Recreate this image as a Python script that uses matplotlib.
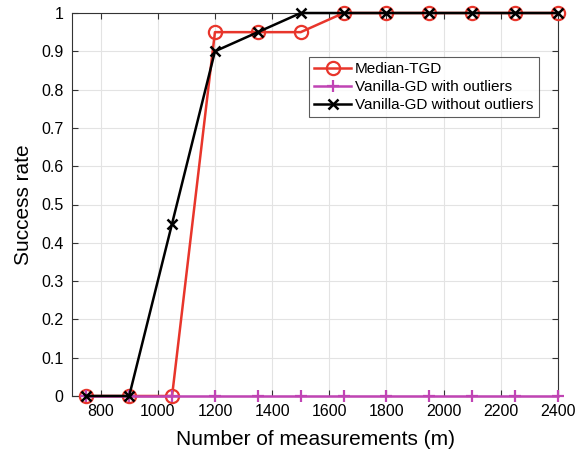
import matplotlib
matplotlib.use("Agg")
import matplotlib.pyplot as plt

m_values = [750, 900, 1050, 1200, 1350, 1500, 1650, 1800, 1950, 2100, 2250, 2400]
median_tgd = [0, 0, 0, 0.95, 0.95, 0.95, 1, 1, 1, 1, 1, 1]
vanilla_with = [0, 0, 0, 0, 0, 0, 0, 0, 0, 0, 0, 0]
vanilla_without = [0, 0, 0.45, 0.9, 0.95, 1, 1, 1, 1, 1, 1, 1]
x_ticks = [800, 1000, 1200, 1400, 1600, 1800, 2000, 2200, 2400]
y_ticks = [0, 0.1, 0.2, 0.3, 0.4, 0.5, 0.6, 0.7, 0.8, 0.9, 1]
y_ticklabels = ["0", "0.1", "0.2", "0.3", "0.4", "0.5", "0.6", "0.7", "0.8", "0.9", "1"]

plt.rcParams['font.family'] = ['Liberation Sans', 'DejaVu Sans']

fig = plt.figure(figsize=(5.79, 4.57), dpi=100)
ax = fig.add_axes([72/579, 1 - 396/457, (558-72)/579, (396-13)/457])

ax.plot(m_values, median_tgd, color='#e8352b', lw=1.8, marker='o', ms=9.5,
        mfc='none', mew=1.6, label='Median-TGD', zorder=3, clip_on=False)
ax.plot(m_values, vanilla_with, color='#c044b4', lw=1.8, marker='+', ms=9,
        mew=1.6, label='Vanilla-GD with outliers', zorder=4, clip_on=False)
ax.plot(m_values, vanilla_without, color='black', lw=1.8, marker='x', ms=7,
        mew=1.8, label='Vanilla-GD without outliers', zorder=5, clip_on=False)

ax.set_xlim(700, 2400)
ax.set_ylim(0, 1)
ax.set_xticks(x_ticks)
ax.set_yticks(y_ticks)
ax.set_yticklabels(y_ticklabels)
ax.grid(True, color='#e3e3e3', lw=0.8)
ax.set_axisbelow(True)
ax.tick_params(direction='in', top=True, right=True, labelsize=11.5, length=4,
               color='#333333', pad=6)
for s in ax.spines.values():
    s.set_color('#333333')
    s.set_linewidth(0.8)

ax.set_xlabel('Number of measurements (m)', fontsize=15, labelpad=8)
ax.set_ylabel('Success rate', fontsize=15, labelpad=6)

leg = ax.legend(loc='upper right', bbox_to_anchor=(0.96, 0.885), fontsize=11,
                frameon=True, fancybox=False, edgecolor='#333333',
                handlelength=2.4, handletextpad=0.25, borderpad=0.35,
                labelspacing=0.25, borderaxespad=0)
leg.get_frame().set_linewidth(0.8)

fig.savefig('out.png', dpi=100)
